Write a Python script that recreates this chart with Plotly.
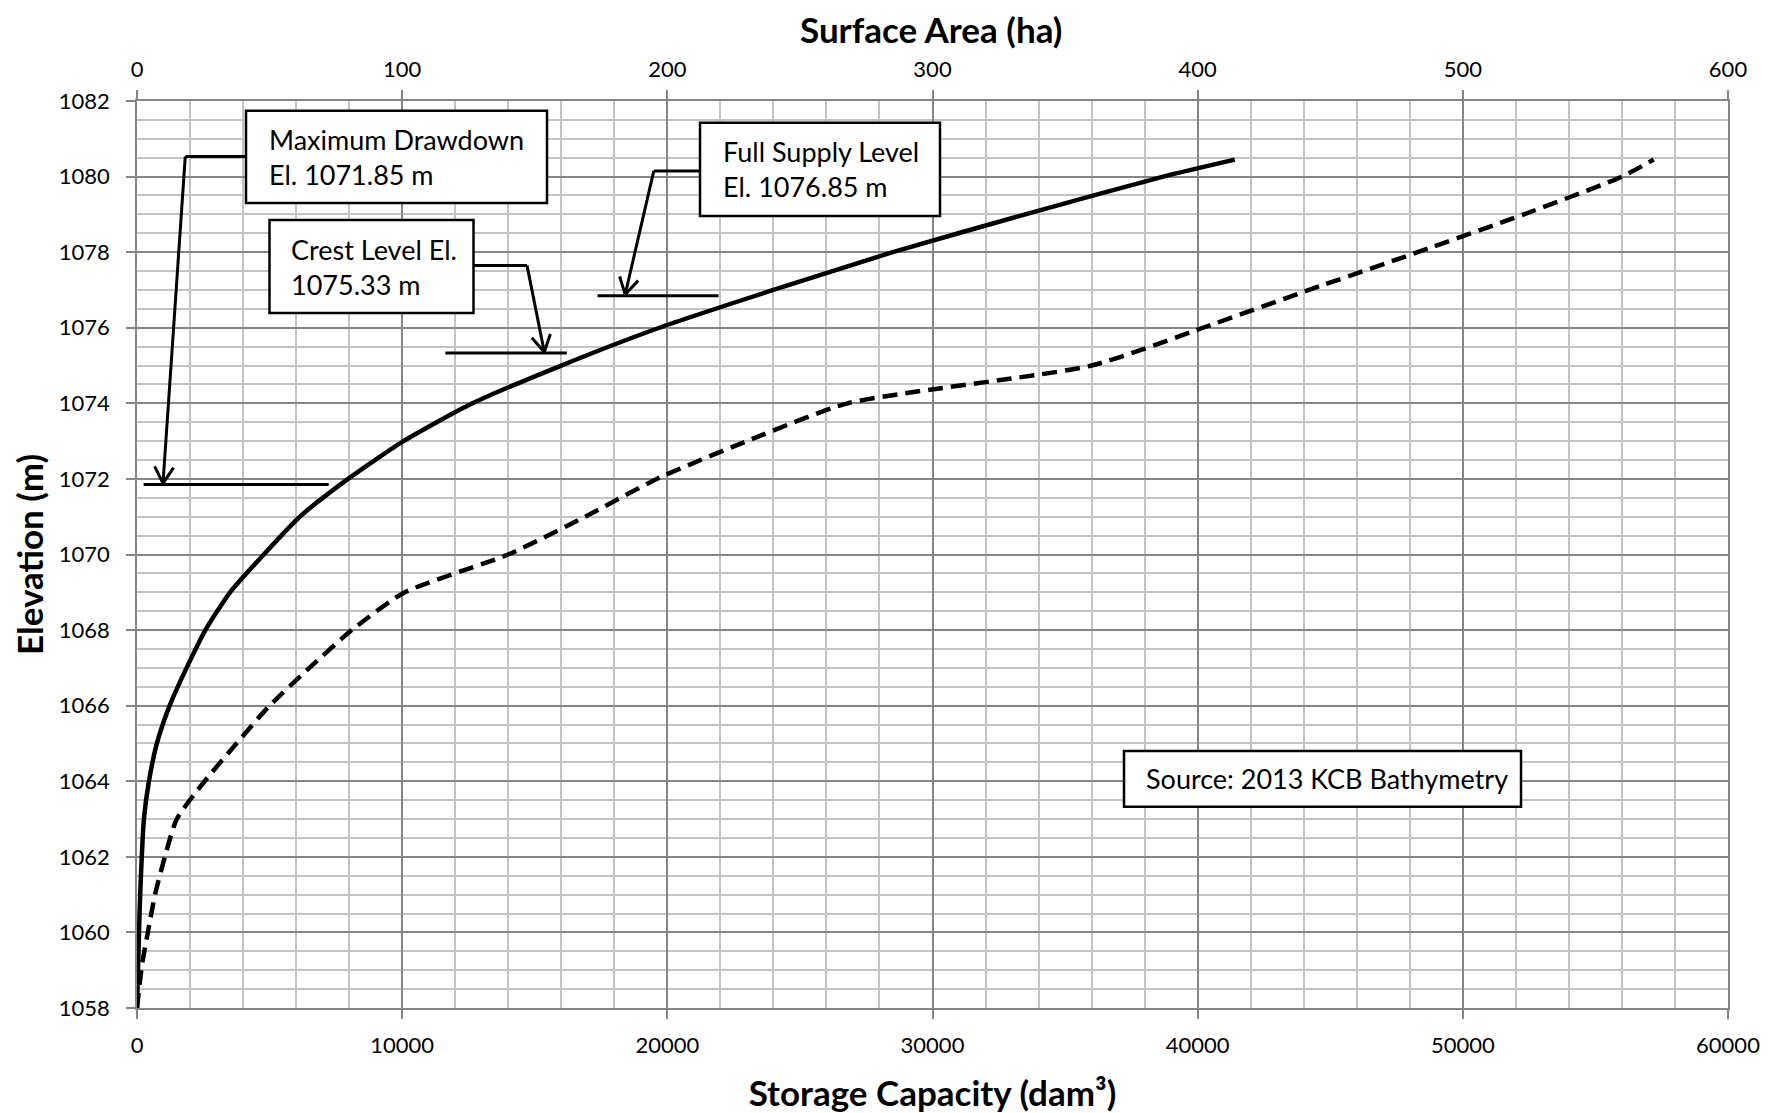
import math
import plotly.graph_objects as go

# ---------------- data ----------------
elev_area = [1058, 1060, 1061, 1062, 1063, 1064, 1065, 1066, 1067, 1068, 1069, 1070,
             1071, 1072, 1073, 1074, 1075, 1076, 1077, 1078, 1079, 1080, 1080.45]
surface_area_ha = [0, 0.75, 1.2, 1.8, 2.6, 4.5, 7.5, 12.3, 18.7, 25.8, 35.1, 47.8,
                   61.4, 79.6, 100.5, 126.5, 160, 197, 240, 285, 335, 387, 414]

elev_storage = [1058, 1059.15, 1060, 1061, 1062, 1063, 1064, 1065, 1066, 1067, 1068, 1069,
                1070, 1071, 1072, 1073, 1074, 1075, 1076, 1077, 1078, 1079, 1080, 1080.45]
storage_dam3 = [0, 190, 410, 680, 1050, 1500, 2550, 3750, 5000, 6500, 8100, 10100,
                14000, 16900, 19600, 23000, 26800, 36000, 40200, 44200, 48300, 52300, 56000, 57200]

x_ticks_storage = [0, 10000, 20000, 30000, 40000, 50000, 60000]
x_ticks_area = [0, 100, 200, 300, 400, 500, 600]
y_ticks = [1058, 1060, 1062, 1064, 1066, 1068, 1070, 1072, 1074, 1076, 1078, 1080, 1082]

# callout levels (m)
level_mdd = 1071.85
level_crest = 1075.33
level_fsl = 1076.85

# ---------------- layout constants ----------------
# the page body has an 8px margin, so the figure is drawn 8px in from the window edge
OFF = 8
W, H = 1783 - OFF, 1113 - OFF
ML, MR, MT, MB = 137 - OFF, 55, 101 - OFF, 105
PW, PH = W - ML - MR, H - MT - MB
XMAX, YMIN, YMAX = 60000, 1058, 1082

# helpers work in window pixel coordinates (as measured on the reference)
def d2p(x, y):
    return OFF + ML + x / XMAX * PW, OFF + MT + PH - (y - YMIN) / (YMAX - YMIN) * PH

def p2d(px, py):
    return (px - OFF - ML) / PW * XMAX, YMIN + (OFF + MT + PH - py) / PH * (YMAX - YMIN)

def paper(px, py):
    return (px - OFF - ML) / PW, (OFF + MT + PH - py) / PH

FONT = "Lato, 'Open Sans', sans-serif"
MAJOR = "#868686"
MINOR = "#c3c3c3"

fig = go.Figure()

fig.add_trace(go.Scatter(
    x=storage_dam3, y=elev_storage, mode="lines", xaxis="x", yaxis="y",
    line=dict(color="black", width=4.5, dash="15px,8px", shape="spline", smoothing=0.6),
    name="Storage Capacity", showlegend=False, hoverinfo="skip"))

fig.add_trace(go.Scatter(
    x=surface_area_ha, y=elev_area, mode="lines", xaxis="x2", yaxis="y",
    line=dict(color="black", width=4.5, shape="spline", smoothing=0.6),
    name="Surface Area", showlegend=False, hoverinfo="skip"))

shapes = []
annotations = []

def seg(x0, y0, x1, y1, w=3):
    shapes.append(dict(type="line", xref="x", yref="y", x0=x0, y0=y0, x1=x1, y1=y1,
                       line=dict(color="black", width=w), layer="above"))

def arrowhead(tip, corner, length=19, half_angle=30):
    tx, ty = d2p(*tip)
    cx, cy = d2p(*corner)
    ang = math.atan2(cy - ty, cx - tx)
    for s in (-1, 1):
        a = ang + s * math.radians(half_angle)
        ex, ey = tx + length * math.cos(a), ty + length * math.sin(a)
        dx, dy = p2d(ex, ey)
        seg(tip[0], tip[1], dx, dy, w=3)

def box(x0, y0, x1, y1, text, text_left):
    a0, b0 = paper(x0, y1)
    a1, b1 = paper(x1, y0)
    shapes.append(dict(type="rect", xref="paper", yref="paper", x0=a0, y0=b0, x1=a1, y1=b1,
                       fillcolor="white", line=dict(color="black", width=2.5), layer="above"))
    tx, ty = paper(text_left, (y0 + y1) / 2)
    annotations.append(dict(xref="paper", yref="paper", x=tx, y=ty, xanchor="left",
                            yanchor="middle", text=text, showarrow=False, align="left",
                            font=dict(family=FONT, size=27, color="black")))

# Maximum drawdown callout
seg(250, level_mdd, 7230, level_mdd)
box_l = p2d(246, 0)[0]
corner = (1820, 1080.53)
tip = (980, level_mdd + 0.03)
seg(box_l, corner[1], corner[0], corner[1])
seg(corner[0], corner[1], tip[0], tip[1])
arrowhead(tip, corner)
box(246, 110.7, 547, 203, "Maximum Drawdown<br>El. 1071.85 m", 266.5)

# Crest level callout
seg(11630, level_crest, 16210, level_crest)
box_r = p2d(473.5, 0)[0]
corner = (14708, 1077.65)
tip = (15360, level_crest + 0.03)
seg(box_r, corner[1], corner[0], corner[1])
seg(corner[0], corner[1], tip[0], tip[1])
arrowhead(tip, corner)
box(269.5, 220, 473.5, 313, "Crest Level El.<br>1075.33 m", 289)

# Full supply level callout
seg(17370, level_fsl, 21930, level_fsl)
box_l = p2d(700, 0)[0]
corner = (19490, 1080.15)
tip = (18410, level_fsl + 0.03)
seg(box_l, corner[1], corner[0], corner[1])
seg(corner[0], corner[1], tip[0], tip[1])
arrowhead(tip, corner)
box(700, 122.7, 940, 216, "Full Supply Level<br>El. 1076.85 m", 721)

# Source box
box(1124, 751, 1521, 806.7, "Source: 2013 KCB Bathymetry", 1143.5)

tickfont = dict(family=FONT, size=22, color="black")
titlefont = dict(family=FONT, size=35, color="black", weight="bold")

# top axis title (placed as an annotation so it can sit close to the page top)
tx, ty = paper(931, 29)
annotations.append(dict(xref="paper", yref="paper", x=tx, y=ty, xanchor="center",
                        yanchor="middle", text="Surface Area (ha)", showarrow=False,
                        font=titlefont))

fig.update_layout(
    width=W, height=H,
    margin=dict(l=ML, r=MR, t=MT, b=MB, autoexpand=False),
    paper_bgcolor="white", plot_bgcolor="white",
    showlegend=False,
    xaxis=dict(
        range=[0, XMAX], tickvals=x_ticks_storage, ticktext=[str(v) for v in x_ticks_storage],
        showgrid=True, gridcolor=MAJOR, gridwidth=1.5,
        minor=dict(dtick=2000, showgrid=True, gridcolor=MINOR, gridwidth=1.5),
        showline=True, linecolor=MAJOR, linewidth=1.5, mirror=True,
        ticks="outside", ticklen=9, tickcolor=MAJOR, tickwidth=1.5,
        tickfont=tickfont, zeroline=False, ticklabelstandoff=8,
        title=dict(text="Storage Capacity (dam³)", font=titlefont, standoff=28),
        automargin=False,
    ),
    xaxis2=dict(
        range=[0, 600], tickvals=x_ticks_area, ticktext=[str(v) for v in x_ticks_area],
        overlaying="x", side="top", showgrid=False, zeroline=False,
        showline=True, linecolor=MAJOR, linewidth=1.5,
        ticks="outside", ticklen=9, tickcolor=MAJOR, tickwidth=1.5,
        tickfont=tickfont, ticklabelstandoff=4,
        automargin=False,
    ),
    yaxis=dict(
        range=[YMIN, YMAX], tickvals=y_ticks, ticktext=[str(v) for v in y_ticks],
        showgrid=True, gridcolor=MAJOR, gridwidth=1.5,
        minor=dict(dtick=0.5, showgrid=True, gridcolor=MINOR, gridwidth=1.5),
        showline=True, linecolor=MAJOR, linewidth=1.5, mirror=True,
        ticks="outside", ticklen=9, tickcolor=MAJOR, tickwidth=1.5,
        tickfont=tickfont, zeroline=False, ticklabelstandoff=12,
        title=dict(text="Elevation (m)", font=titlefont, standoff=6),
        automargin=False,
    ),
    shapes=shapes,
    annotations=annotations,
)

fig.write_html("out.html")
